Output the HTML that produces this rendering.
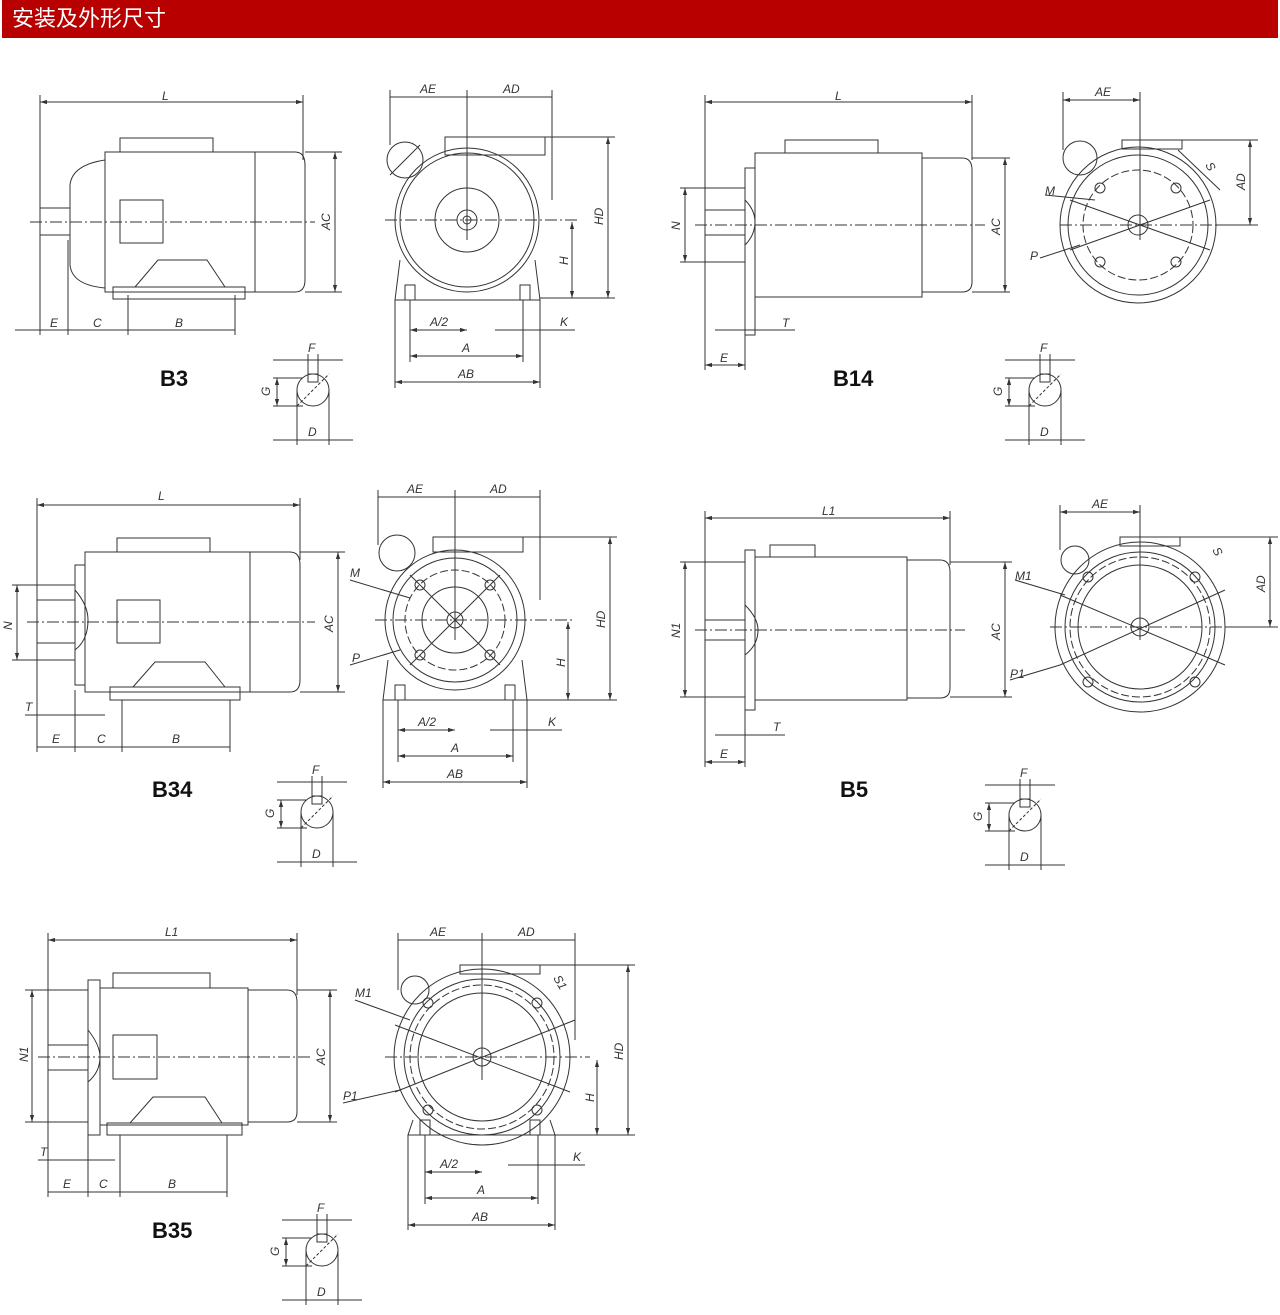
<!DOCTYPE html>
<html><head><meta charset="utf-8"><style>
html,body{margin:0;padding:0;background:#fff;width:1280px;height:1315px;overflow:hidden}
.hd{position:absolute;left:2px;top:0;width:1276px;height:38px;background:#b80000;color:#fff;font:22px "Liberation Sans","Noto Sans CJK SC",sans-serif;line-height:38px;padding-left:10px;box-sizing:border-box}
svg{position:absolute;left:0;top:0}
text{font-family:"Liberation Sans",sans-serif;font-size:12px;font-style:italic;fill:#333;stroke:none}
text.b{font-style:normal;font-weight:bold;font-size:22px;fill:#111}
</style></head><body>
<div class="hd">安装及外形尺寸</div>
<svg width="1280" height="1315" viewBox="0 0 1280 1315" fill="none" stroke="#333" stroke-width="1">
<defs>
<marker id="a" viewBox="0 0 10 10" refX="10" refY="5" markerWidth="7" markerHeight="7" orient="auto-start-reverse"><path d="M0,2L10,5L0,8z" fill="#333" stroke="none"/></marker>
<g id="kw">
<circle cx="0" cy="0" r="16"/><rect x="-5" y="-16" width="10" height="8"/>
<line x1="-16" y1="16" x2="16" y2="-16" stroke-dasharray="3,2"/>
<line x1="-40" y1="-30" x2="30" y2="-30"/><line x1="-5" y1="-36" x2="-5" y2="-16"/><line x1="5" y1="-36" x2="5" y2="-16"/>
<line x1="-40" y1="-12" x2="-10" y2="-12"/><line x1="-40" y1="16" x2="-10" y2="16"/>
<line x1="-36" y1="-12" x2="-36" y2="16" marker-start="url(#a)" marker-end="url(#a)"/>
<line x1="-16" y1="0" x2="-16" y2="55"/><line x1="16" y1="0" x2="16" y2="55"/>
<line x1="-40" y1="50" x2="40" y2="50"/>
</g>
</defs>
<!-- B3 side -->
<line x1="40" y1="102" x2="303" y2="102" marker-start="url(#a)" marker-end="url(#a)"/>
<line x1="40" y1="95" x2="40" y2="335"/><line x1="303" y1="95" x2="303" y2="160"/>
<path d="M105,152H255V292H105Z"/><path d="M255,152H295Q305,152 305,165V280Q305,292 295,292H255"/>
<path d="M105,160Q72,165 70,185V265Q72,285 105,288"/><rect x="40" y="208" width="30" height="27"/>
<rect x="120" y="138" width="93" height="14"/><rect x="120" y="200" width="43" height="43"/>
<rect x="113" y="287" width="132" height="12"/><path d="M135,287L158,260H207L225,287"/>
<line x1="30" y1="222" x2="315" y2="222" stroke-dasharray="12,3,2,3"/>
<line x1="305" y1="152" x2="342" y2="152"/><line x1="305" y1="292" x2="342" y2="292"/>
<line x1="335" y1="152" x2="335" y2="292" marker-start="url(#a)" marker-end="url(#a)"/>
<line x1="68" y1="240" x2="68" y2="335"/><line x1="128" y1="295" x2="128" y2="335"/><line x1="235" y1="295" x2="235" y2="335"/>
<line x1="15" y1="330" x2="235" y2="330"/>
<text x="162" y="100">L</text><text x="330" y="230" transform="rotate(-90 330 230)">AC</text>
<text x="50" y="327">E</text><text x="93" y="327">C</text><text x="175" y="327">B</text>
<text class="b" x="160" y="386">B3</text>
<use href="#kw" x="313" y="390"/><text x="308" y="352">F</text><text x="270" y="396" transform="rotate(-90 270 396)">G</text><text x="308" y="436">D</text>
<!-- B3 front -->
<line x1="390" y1="97" x2="552" y2="97"/><line x1="467" y1="90" x2="467" y2="240"/>
<line x1="390" y1="90" x2="390" y2="145"/><line x1="552" y1="90" x2="552" y2="200"/>
<circle cx="467" cy="220" r="72"/><circle cx="467" cy="220" r="67"/><circle cx="467" cy="220" r="32"/><circle cx="467" cy="220" r="10"/><circle cx="467" cy="220" r="4"/>
<rect x="445" y="137" width="100" height="18"/><circle cx="405" cy="160" r="18"/><line x1="390" y1="175" x2="420" y2="145"/>
<path d="M400,260L395,300H540L535,260"/><rect x="405" y="285" width="10" height="15"/><rect x="520" y="285" width="10" height="15"/>
<line x1="385" y1="220" x2="580" y2="220" stroke-dasharray="12,3,2,3"/>
<line x1="545" y1="137" x2="615" y2="137"/><line x1="540" y1="298" x2="615" y2="298"/>
<line x1="608" y1="137" x2="608" y2="298" marker-start="url(#a)" marker-end="url(#a)"/>
<line x1="572" y1="222" x2="572" y2="298" marker-start="url(#a)" marker-end="url(#a)"/>
<line x1="410" y1="300" x2="410" y2="362"/><line x1="523" y1="300" x2="523" y2="362"/><line x1="395" y1="300" x2="395" y2="388"/><line x1="540" y1="300" x2="540" y2="388"/>
<line x1="410" y1="330" x2="467" y2="330" marker-start="url(#a)" marker-end="url(#a)"/>
<line x1="410" y1="356" x2="523" y2="356" marker-start="url(#a)" marker-end="url(#a)"/>
<line x1="395" y1="382" x2="540" y2="382" marker-start="url(#a)" marker-end="url(#a)"/>
<line x1="495" y1="330" x2="575" y2="330"/>
<text x="420" y="93">AE</text><text x="503" y="93">AD</text><text x="603" y="225" transform="rotate(-90 603 225)">HD</text><text x="568" y="265" transform="rotate(-90 568 265)">H</text>
<text x="430" y="326">A/2</text><text x="462" y="352">A</text><text x="458" y="378">AB</text><text x="560" y="326">K</text>
<!-- B14 side -->
<line x1="705" y1="102" x2="972" y2="102" marker-start="url(#a)" marker-end="url(#a)"/>
<line x1="705" y1="95" x2="705" y2="370"/><line x1="972" y1="95" x2="972" y2="160"/>
<path d="M755,153H922V297H755Z"/><path d="M922,158H962Q972,158 972,170V282Q972,292 962,292H922"/>
<rect x="745" y="168" width="10" height="167"/><rect x="705" y="210" width="40" height="25"/><path d="M745,200Q755,210 755,222Q755,235 745,245"/>
<rect x="785" y="140" width="93" height="13"/>
<line x1="695" y1="225" x2="985" y2="225" stroke-dasharray="12,3,2,3"/>
<line x1="680" y1="188" x2="745" y2="188"/><line x1="680" y1="262" x2="745" y2="262"/>
<line x1="685" y1="188" x2="685" y2="262" marker-start="url(#a)" marker-end="url(#a)"/>
<line x1="972" y1="158" x2="1010" y2="158"/><line x1="972" y1="292" x2="1010" y2="292"/>
<line x1="1005" y1="158" x2="1005" y2="292" marker-start="url(#a)" marker-end="url(#a)"/>
<line x1="745" y1="335" x2="745" y2="370"/><line x1="755" y1="310" x2="755" y2="335"/>
<line x1="715" y1="330" x2="795" y2="330"/><line x1="705" y1="365" x2="745" y2="365" marker-start="url(#a)" marker-end="url(#a)"/>
<text x="835" y="100">L</text><text x="680" y="230" transform="rotate(-90 680 230)">N</text><text x="1000" y="235" transform="rotate(-90 1000 235)">AC</text>
<text x="782" y="327">T</text><text x="720" y="362">E</text><text class="b" x="833" y="386">B14</text>
<use href="#kw" x="1045" y="390"/><text x="1040" y="352">F</text><text x="1002" y="396" transform="rotate(-90 1002 396)">G</text><text x="1040" y="436">D</text>
<!-- B14 front -->
<line x1="1063" y1="100" x2="1140" y2="100" marker-start="url(#a)" marker-end="url(#a)"/><line x1="1063" y1="92" x2="1063" y2="150"/><line x1="1140" y1="92" x2="1140" y2="240"/>
<circle cx="1138" cy="225" r="78"/><circle cx="1138" cy="225" r="70"/><circle cx="1138" cy="225" r="55" stroke-dasharray="8,3"/><circle cx="1138" cy="225" r="10"/>
<rect x="1122" y="140" width="60" height="9"/><circle cx="1080" cy="158" r="17"/>
<circle cx="1100" cy="188" r="5"/><circle cx="1176" cy="188" r="5"/><circle cx="1100" cy="262" r="5"/><circle cx="1176" cy="262" r="5"/>
<line x1="1070" y1="200" x2="1210" y2="250"/><line x1="1070" y1="250" x2="1210" y2="200"/>
<line x1="1060" y1="225" x2="1225" y2="225" stroke-dasharray="12,3,2,3"/>
<line x1="1182" y1="140" x2="1258" y2="140"/><line x1="1215" y1="225" x2="1258" y2="225"/>
<line x1="1250" y1="140" x2="1250" y2="225" marker-start="url(#a)" marker-end="url(#a)"/>
<line x1="1045" y1="195" x2="1095" y2="200"/><line x1="1040" y1="258" x2="1080" y2="245"/><line x1="1178" y1="150" x2="1220" y2="190"/>
<text x="1095" y="96">AE</text><text x="1245" y="190" transform="rotate(-90 1245 190)">AD</text><text x="1045" y="195">M</text><text x="1030" y="260">P</text><text x="1205" y="165" transform="rotate(60 1205 165)">S</text>
<!-- B34 side -->
<line x1="37" y1="505" x2="300" y2="505" marker-start="url(#a)" marker-end="url(#a)"/>
<line x1="37" y1="498" x2="37" y2="752"/><line x1="300" y1="498" x2="300" y2="560"/>
<path d="M85,552H250V692H85Z"/><path d="M250,552H290Q300,552 300,565V680Q300,692 290,692H250"/>
<rect x="75" y="565" width="10" height="120"/><rect x="37" y="600" width="38" height="43"/><path d="M75,590Q88,605 88,620Q88,640 75,650"/>
<rect x="117" y="538" width="93" height="14"/><rect x="117" y="600" width="43" height="43"/>
<rect x="110" y="687" width="130" height="13"/><path d="M133,687L155,662H205L225,687"/>
<line x1="27" y1="622" x2="315" y2="622" stroke-dasharray="12,3,2,3"/>
<line x1="12" y1="585" x2="75" y2="585"/><line x1="12" y1="660" x2="75" y2="660"/>
<line x1="17" y1="585" x2="17" y2="660" marker-start="url(#a)" marker-end="url(#a)"/>
<line x1="300" y1="552" x2="345" y2="552"/><line x1="300" y1="692" x2="345" y2="692"/>
<line x1="338" y1="552" x2="338" y2="692" marker-start="url(#a)" marker-end="url(#a)"/>
<line x1="75" y1="690" x2="75" y2="752"/><line x1="122" y1="700" x2="122" y2="752"/><line x1="230" y1="700" x2="230" y2="752"/>
<line x1="25" y1="715" x2="105" y2="715"/><line x1="37" y1="747" x2="230" y2="747"/>
<text x="158" y="500">L</text><text x="12" y="630" transform="rotate(-90 12 630)">N</text><text x="333" y="632" transform="rotate(-90 333 632)">AC</text>
<text x="25" y="711">T</text><text x="52" y="743">E</text><text x="97" y="743">C</text><text x="172" y="743">B</text>
<text class="b" x="152" y="797">B34</text>
<use href="#kw" x="317" y="812"/><text x="312" y="774">F</text><text x="274" y="818" transform="rotate(-90 274 818)">G</text><text x="312" y="858">D</text>
<!-- B34 front -->
<line x1="378" y1="497" x2="540" y2="497"/><line x1="455" y1="490" x2="455" y2="640"/><line x1="378" y1="490" x2="378" y2="545"/><line x1="540" y1="490" x2="540" y2="600"/>
<circle cx="455" cy="620" r="70"/><circle cx="455" cy="620" r="62"/><circle cx="455" cy="620" r="50" stroke-dasharray="8,3"/><circle cx="455" cy="620" r="33"/><circle cx="455" cy="620" r="8"/>
<rect x="433" y="537" width="90" height="15"/><circle cx="397" cy="553" r="18"/>
<circle cx="420" cy="585" r="5"/><circle cx="490" cy="585" r="5"/><circle cx="420" cy="655" r="5"/><circle cx="490" cy="655" r="5"/>
<line x1="410" y1="575" x2="500" y2="665"/><line x1="410" y1="665" x2="500" y2="575"/>
<path d="M388,660L383,700H527L522,660"/><rect x="395" y="685" width="10" height="15"/><rect x="505" y="685" width="10" height="15"/>
<line x1="375" y1="620" x2="575" y2="620" stroke-dasharray="12,3,2,3"/>
<line x1="523" y1="537" x2="617" y2="537"/><line x1="527" y1="700" x2="617" y2="700"/>
<line x1="610" y1="537" x2="610" y2="700" marker-start="url(#a)" marker-end="url(#a)"/>
<line x1="568" y1="622" x2="568" y2="700" marker-start="url(#a)" marker-end="url(#a)"/>
<line x1="398" y1="700" x2="398" y2="762"/><line x1="513" y1="700" x2="513" y2="762"/><line x1="383" y1="700" x2="383" y2="788"/><line x1="527" y1="700" x2="527" y2="788"/>
<line x1="398" y1="730" x2="455" y2="730" marker-start="url(#a)" marker-end="url(#a)"/>
<line x1="398" y1="756" x2="513" y2="756" marker-start="url(#a)" marker-end="url(#a)"/>
<line x1="383" y1="782" x2="527" y2="782" marker-start="url(#a)" marker-end="url(#a)"/>
<line x1="490" y1="730" x2="562" y2="730"/><line x1="350" y1="580" x2="410" y2="598"/><line x1="350" y1="665" x2="400" y2="650"/>
<text x="407" y="493">AE</text><text x="490" y="493">AD</text><text x="605" y="628" transform="rotate(-90 605 628)">HD</text><text x="565" y="667" transform="rotate(-90 565 667)">H</text>
<text x="418" y="726">A/2</text><text x="451" y="752">A</text><text x="447" y="778">AB</text><text x="548" y="726">K</text><text x="350" y="577">M</text><text x="352" y="662">P</text>
<!-- B5 side -->
<line x1="705" y1="518" x2="950" y2="518" marker-start="url(#a)" marker-end="url(#a)"/>
<line x1="705" y1="511" x2="705" y2="767"/><line x1="950" y1="511" x2="950" y2="565"/>
<rect x="745" y="550" width="10" height="160"/><path d="M755,557H907V700H755"/><path d="M907,560H940Q950,560 950,572V688Q950,698 940,698H907"/>
<rect x="705" y="620" width="40" height="20"/><path d="M745,605Q758,618 758,630Q758,645 745,655"/><rect x="770" y="545" width="45" height="12"/>
<line x1="695" y1="630" x2="965" y2="630" stroke-dasharray="12,3,2,3"/>
<line x1="680" y1="562" x2="745" y2="562"/><line x1="680" y1="697" x2="745" y2="697"/>
<line x1="685" y1="562" x2="685" y2="697" marker-start="url(#a)" marker-end="url(#a)"/>
<line x1="950" y1="562" x2="1012" y2="562"/><line x1="950" y1="697" x2="1012" y2="697"/>
<line x1="1005" y1="562" x2="1005" y2="697" marker-start="url(#a)" marker-end="url(#a)"/>
<line x1="745" y1="710" x2="745" y2="767"/><line x1="715" y1="735" x2="785" y2="735"/>
<line x1="705" y1="762" x2="745" y2="762" marker-start="url(#a)" marker-end="url(#a)"/>
<text x="822" y="515">L1</text><text x="680" y="638" transform="rotate(-90 680 638)">N1</text><text x="1000" y="640" transform="rotate(-90 1000 640)">AC</text>
<text x="773" y="731">T</text><text x="720" y="758">E</text><text class="b" x="840" y="797">B5</text>
<use href="#kw" x="1025" y="815"/><text x="1020" y="777">F</text><text x="982" y="821" transform="rotate(-90 982 821)">G</text><text x="1020" y="861">D</text>
<!-- B5 front -->
<line x1="1060" y1="512" x2="1140" y2="512" marker-start="url(#a)" marker-end="url(#a)"/><line x1="1060" y1="505" x2="1060" y2="550"/><line x1="1140" y1="505" x2="1140" y2="640"/>
<circle cx="1140" cy="627" r="85"/><circle cx="1140" cy="627" r="75"/><circle cx="1140" cy="627" r="62"/><circle cx="1140" cy="627" r="70" stroke-dasharray="8,3"/><circle cx="1140" cy="627" r="9"/>
<rect x="1120" y="537" width="60" height="9"/><circle cx="1075" cy="560" r="14"/>
<circle cx="1088" cy="577" r="5"/><circle cx="1195" cy="577" r="5"/><circle cx="1088" cy="682" r="5"/><circle cx="1195" cy="682" r="5"/>
<line x1="1060" y1="595" x2="1225" y2="665"/><line x1="1060" y1="665" x2="1225" y2="590"/>
<line x1="1050" y1="627" x2="1235" y2="627" stroke-dasharray="12,3,2,3"/>
<line x1="1180" y1="537" x2="1278" y2="537"/><line x1="1225" y1="627" x2="1278" y2="627"/>
<line x1="1270" y1="537" x2="1270" y2="627" marker-start="url(#a)" marker-end="url(#a)"/>
<line x1="1015" y1="580" x2="1065" y2="595"/><line x1="1010" y1="680" x2="1060" y2="665"/>
<text x="1092" y="508">AE</text><text x="1265" y="592" transform="rotate(-90 1265 592)">AD</text><text x="1015" y="580">M1</text><text x="1010" y="678">P1</text><text x="1212" y="550" transform="rotate(60 1212 550)">S</text>
<!-- B35 side -->
<line x1="48" y1="940" x2="297" y2="940" marker-start="url(#a)" marker-end="url(#a)"/>
<line x1="48" y1="933" x2="48" y2="1197"/><line x1="297" y1="933" x2="297" y2="995"/>
<rect x="88" y="980" width="12" height="155"/><path d="M100,988H248V1125H100"/><path d="M248,990H287Q297,990 297,1002V1112Q297,1122 287,1122H248"/>
<rect x="48" y="1045" width="40" height="25"/><path d="M88,1030Q100,1045 100,1057Q100,1072 88,1082"/>
<rect x="113" y="973" width="97" height="15"/><rect x="113" y="1035" width="44" height="44"/>
<rect x="107" y="1123" width="135" height="12"/><path d="M130,1123L153,1097H205L222,1123"/>
<line x1="38" y1="1057" x2="312" y2="1057" stroke-dasharray="12,3,2,3"/>
<line x1="25" y1="990" x2="88" y2="990"/><line x1="25" y1="1122" x2="88" y2="1122"/>
<line x1="32" y1="990" x2="32" y2="1122" marker-start="url(#a)" marker-end="url(#a)"/>
<line x1="297" y1="990" x2="337" y2="990"/><line x1="297" y1="1122" x2="337" y2="1122"/>
<line x1="330" y1="990" x2="330" y2="1122" marker-start="url(#a)" marker-end="url(#a)"/>
<line x1="88" y1="1135" x2="88" y2="1197"/><line x1="120" y1="1135" x2="120" y2="1197"/><line x1="227" y1="1135" x2="227" y2="1197"/>
<line x1="38" y1="1160" x2="115" y2="1160"/><line x1="48" y1="1192" x2="227" y2="1192"/>
<text x="165" y="936">L1</text><text x="28" y="1062" transform="rotate(-90 28 1062)">N1</text><text x="325" y="1065" transform="rotate(-90 325 1065)">AC</text>
<text x="40" y="1156">T</text><text x="63" y="1188">E</text><text x="99" y="1188">C</text><text x="168" y="1188">B</text>
<text class="b" x="152" y="1238">B35</text>
<use href="#kw" x="322" y="1250"/><text x="317" y="1212">F</text><text x="279" y="1256" transform="rotate(-90 279 1256)">G</text><text x="317" y="1296">D</text>
<!-- B35 front -->
<line x1="398" y1="940" x2="575" y2="940"/><line x1="482" y1="933" x2="482" y2="1080"/><line x1="398" y1="933" x2="398" y2="990"/><line x1="575" y1="933" x2="575" y2="1040"/>
<circle cx="482" cy="1057" r="88"/><circle cx="482" cy="1057" r="78"/><circle cx="482" cy="1057" r="64"/><circle cx="482" cy="1057" r="72" stroke-dasharray="8,3"/><circle cx="482" cy="1057" r="9"/>
<rect x="460" y="965" width="80" height="9"/><circle cx="415" cy="990" r="14"/>
<circle cx="428" cy="1003" r="5"/><circle cx="537" cy="1003" r="5"/><circle cx="428" cy="1110" r="5"/><circle cx="537" cy="1110" r="5"/>
<line x1="395" y1="1025" x2="570" y2="1092"/><line x1="395" y1="1092" x2="575" y2="1020"/>
<path d="M413,1120L408,1135H555L550,1120"/><rect x="420" y="1120" width="10" height="15"/><rect x="530" y="1120" width="10" height="15"/>
<line x1="385" y1="1057" x2="590" y2="1057" stroke-dasharray="12,3,2,3"/>
<line x1="540" y1="965" x2="635" y2="965"/><line x1="555" y1="1135" x2="635" y2="1135"/>
<line x1="628" y1="965" x2="628" y2="1135" marker-start="url(#a)" marker-end="url(#a)"/>
<line x1="597" y1="1060" x2="597" y2="1135" marker-start="url(#a)" marker-end="url(#a)"/>
<line x1="425" y1="1135" x2="425" y2="1204"/><line x1="538" y1="1135" x2="538" y2="1204"/><line x1="408" y1="1135" x2="408" y2="1230"/><line x1="555" y1="1135" x2="555" y2="1230"/>
<line x1="425" y1="1172" x2="482" y2="1172" marker-start="url(#a)" marker-end="url(#a)"/>
<line x1="425" y1="1198" x2="538" y2="1198" marker-start="url(#a)" marker-end="url(#a)"/>
<line x1="408" y1="1225" x2="555" y2="1225" marker-start="url(#a)" marker-end="url(#a)"/>
<line x1="508" y1="1165" x2="585" y2="1165"/><line x1="355" y1="1000" x2="410" y2="1020"/><line x1="343" y1="1103" x2="400" y2="1090"/>
<text x="430" y="936">AE</text><text x="518" y="936">AD</text><text x="623" y="1060" transform="rotate(-90 623 1060)">HD</text><text x="594" y="1102" transform="rotate(-90 594 1102)">H</text>
<text x="440" y="1168">A/2</text><text x="477" y="1194">A</text><text x="472" y="1221">AB</text><text x="573" y="1161">K</text><text x="355" y="997">M1</text><text x="343" y="1100">P1</text><text x="553" y="978" transform="rotate(60 553 978)">S1</text>
</svg>
</body></html>
